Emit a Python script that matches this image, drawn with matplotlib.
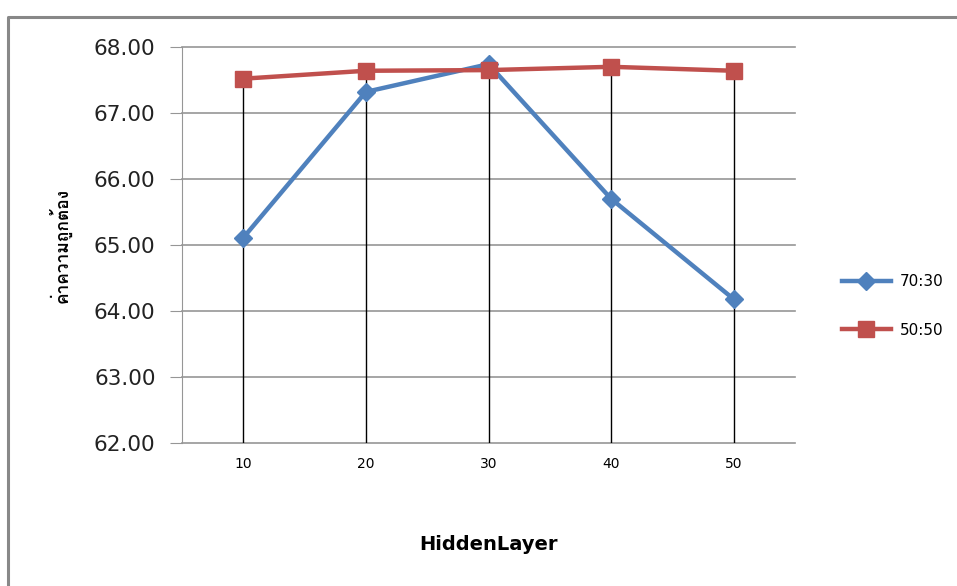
import matplotlib
matplotlib.use('Agg')
import matplotlib.pyplot as plt
from matplotlib import font_manager
from matplotlib.ft2font import FT2Font
from matplotlib.lines import Line2D

hidden_layers = ['10', '20', '30', '40', '50']
acc_70_30 = [65.11, 67.32, 67.74, 65.70, 64.18]
acc_50_50 = [67.52, 67.64, 67.65, 67.70, 67.64]
y_ticks = [62, 63, 64, 65, 66, 67, 68]

BLUE = '#4F81BD'
RED = '#C0504D'
GRID = '#969696'


def find_font_with(ch, fallback='DejaVu Sans'):
    # first installed font that has a glyph for ch
    for f in font_manager.fontManager.ttflist:
        try:
            if FT2Font(f.fname).get_char_index(ord(ch)):
                return f.name
        except Exception:
            pass
    return fallback


thai = find_font_with('ค')

fig = plt.figure(figsize=(9.57, 5.86), dpi=100)
ax = fig.add_axes([182 / 957, 1 - 443 / 586, (795 - 182) / 957, (443 - 47) / 586])

x = list(range(len(hidden_layers)))

# drop lines from the highest point down to the axis floor
tops = [max(a, b) for a, b in zip(acc_70_30, acc_50_50)]
ax.vlines(x, y_ticks[0], tops, colors='black', linewidth=1, zorder=2)

ax.plot(x, acc_70_30, color=BLUE, linewidth=3.2, marker='D', markersize=9,
        label='70:30', zorder=3)
ax.plot(x, acc_50_50, color=RED, linewidth=3.2, marker='s', markersize=11.5,
        label='50:50', zorder=4)

ax.set_xlim(-0.5, len(hidden_layers) - 0.5)
ax.set_ylim(y_ticks[0], y_ticks[-1])
ax.set_yticks(y_ticks)
ax.set_yticklabels([f'{v:.2f}' for v in y_ticks], fontsize=15.5, color='#222222')
ax.set_xticks(x)
ax.set_xticklabels(hidden_layers, fontsize=10)
ax.tick_params(axis='x', length=0, pad=10)
ax.tick_params(axis='y', length=9, color=GRID, pad=10)
ax.grid(axis='y', color=GRID, linewidth=1.2)
for gl in ax.get_ygridlines():
    gl.set_clip_on(False)
ax.set_axisbelow(True)
for s in ['top', 'right', 'bottom']:
    ax.spines[s].set_visible(False)
ax.spines['left'].set_color(GRID)

ax.set_xlabel('HiddenLayer', fontsize=14, fontweight='bold', labelpad=46)
ax.set_ylabel('ค่าความถูกต้อง', fontsize=12.5, fontweight='bold',
              family=[thai, 'DejaVu Sans'], labelpad=16)

handles = [
    Line2D([], [], color=BLUE, linewidth=3.2, marker='D', markersize=9),
    Line2D([], [], color=RED, linewidth=3.2, marker='s', markersize=11.5),
]
fig.legend(handles, ['70:30', '50:50'], loc='center left',
           bbox_to_anchor=(828 / 957, 1 - 306 / 586), frameon=False,
           fontsize=11, handlelength=3.2, labelspacing=2.2, handletextpad=0.6)

# outer chart frame: only the left and top edges are visible
fx0 = 8 / 957
fy1 = 1 - 17 / 586
fig.add_artist(Line2D([fx0, fx0, 1.0], [0, fy1, fy1], transform=fig.transFigure,
                      color='#888888', linewidth=2.2))

fig.savefig('out.png', dpi=100)
